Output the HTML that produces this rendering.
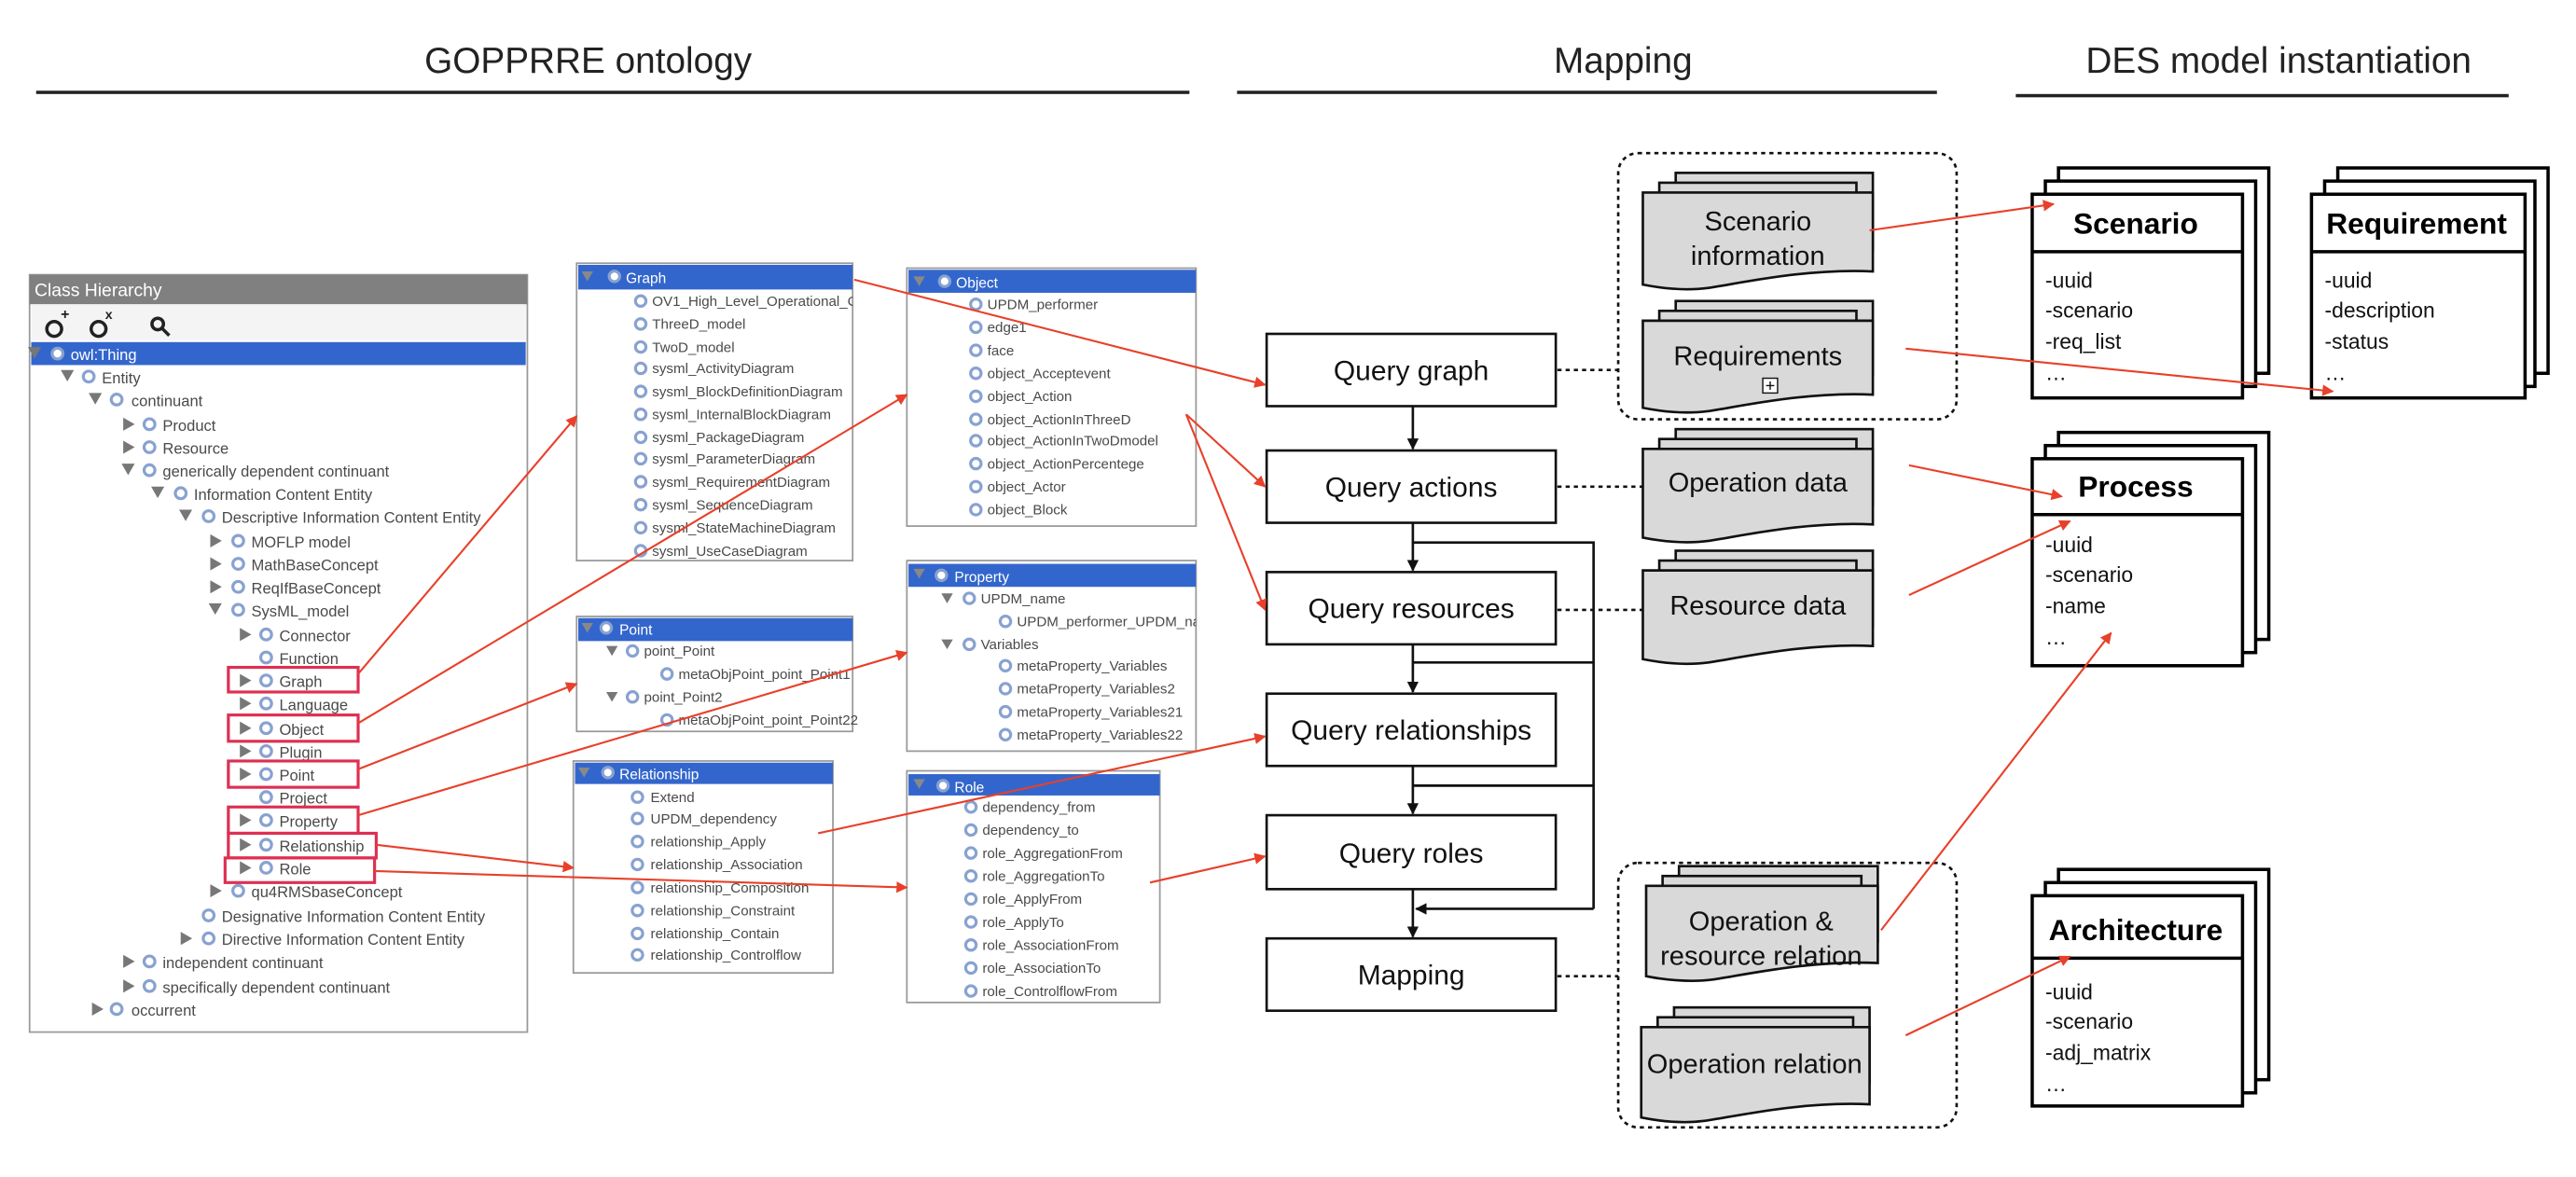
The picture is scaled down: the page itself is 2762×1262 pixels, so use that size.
<!DOCTYPE html>
<html><head><meta charset="utf-8"><style>
html,body{margin:0;padding:0;background:#fff;}
svg{display:block;}
text{font-family:"Liberation Sans",sans-serif;}
.t{font-size:9.4px;fill:#4a4a4a;}
.p{font-size:8.6px;fill:#4a4a4a;}
.h{font-size:8.8px;fill:#fff;}
.m{font-size:17px;fill:#111;}
.d{font-size:16.5px;fill:#111;}
.a{font-size:13px;fill:#111;}
.c{font-size:18px;fill:#000;font-weight:bold;}
.ring{fill:#fff;stroke:#88a2d0;stroke-width:1.8;}
.tri{fill:#777;}
.rb{fill:none;stroke:#de2f52;stroke-width:1.8;}
.ra{stroke:#e8402a;stroke-width:1.2;fill:none;marker-end:url(#ah);}
.box{fill:#fff;stroke:#111;stroke-width:1.5;}
.doc{fill:#d9d9d9;stroke:#111;stroke-width:1.5;}
.card{fill:#fff;stroke:#000;stroke-width:2;}
.dot{stroke:#111;stroke-width:1.5;stroke-dasharray:2.5,2.5;fill:none;}
.pan{fill:#fff;stroke:#999;stroke-width:1;}
</style></head><body>
<svg width="2762" height="1262" viewBox="0 0 1568 716" xmlns="http://www.w3.org/2000/svg">
<defs>
<marker id="ah" viewBox="0 0 10 10" refX="9" refY="5" markerWidth="7" markerHeight="7" orient="auto" markerUnits="userSpaceOnUse"><path d="M0,0 L10,5 L0,10 z" fill="#e8402a"/></marker>
<marker id="bk" viewBox="0 0 10 10" refX="9" refY="5" markerWidth="7" markerHeight="7" orient="auto" markerUnits="userSpaceOnUse"><path d="M0,0 L10,5 L0,10 z" fill="#111"/></marker>
<clipPath id="cg"><rect x="351" y="160" width="168" height="181"/></clipPath>
<clipPath id="co"><rect x="552" y="163" width="176" height="157"/></clipPath>
<clipPath id="cpp"><rect x="552" y="341" width="176" height="116"/></clipPath>
<clipPath id="cr"><rect x="349" y="463" width="158" height="129"/></clipPath>
<clipPath id="cro"><rect x="552" y="469" width="154" height="141"/></clipPath>
</defs>

<!-- Headers -->
<text x="358" y="44" text-anchor="middle" style="font-size:22px;fill:#222">GOPPRRE ontology</text>
<rect x="22" y="55" width="702" height="2" fill="#222"/>
<text x="988" y="44" text-anchor="middle" style="font-size:22px;fill:#222">Mapping</text>
<rect x="753" y="55" width="426" height="2" fill="#222"/>
<text x="1387" y="44" text-anchor="middle" style="font-size:22px;fill:#222">DES model instantiation</text>
<rect x="1227" y="57" width="300" height="2" fill="#222"/>

<!-- Class Hierarchy panel -->
<rect x="18" y="167" width="303" height="461" fill="#fff" stroke="#999" stroke-width="1"/>
<rect x="18" y="167" width="303" height="18" fill="#808080"/>
<text x="21" y="180" style="font-size:11px;fill:#fff">Class Hierarchy</text>
<rect x="19" y="185" width="301" height="22" fill="#f4f4f4"/>
<g fill="none" stroke="#222" stroke-width="2">
<circle cx="33" cy="200" r="4.5"/><circle cx="60" cy="200" r="4.5"/><circle cx="96" cy="197" r="3.5"/>
<line x1="99" y1="200" x2="103" y2="204"/>
</g>
<text x="37" y="194" style="font-size:9px;font-weight:bold;fill:#222">+</text>
<text x="64" y="194" style="font-size:8px;font-weight:bold;fill:#222">x</text>
<rect x="19" y="208" width="301" height="14" fill="#3366cc"/>
<g id="tree">
<!-- rows -->
<path class="tri" d="M17,211 l8,0 l-4,7z" fill="#888"/><circle class="ring" cx="35" cy="215" r="3.3"/><text x="43" y="219" class="t" style="fill:#fff">owl:Thing</text>
<path class="tri" d="M37,225 l8,0 l-4,7z"/><circle class="ring" cx="54" cy="229" r="3.3"/><text x="62" y="233" class="t">Entity</text>
<path class="tri" d="M54,239 l8,0 l-4,7z"/><circle class="ring" cx="71" cy="243" r="3.3"/><text x="80" y="247" class="t">continuant</text>
<path class="tri" d="M75,254 l7,4 l-7,4z"/><circle class="ring" cx="91" cy="258" r="3.3"/><text x="99" y="262" class="t">Product</text>
<path class="tri" d="M75,268 l7,4 l-7,4z"/><circle class="ring" cx="91" cy="272" r="3.3"/><text x="99" y="276" class="t">Resource</text>
<path class="tri" d="M74,282 l8,0 l-4,7z"/><circle class="ring" cx="91" cy="286" r="3.3"/><text x="99" y="290" class="t">generically dependent continuant</text>
<path class="tri" d="M92,296 l8,0 l-4,7z"/><circle class="ring" cx="110" cy="300" r="3.3"/><text x="118" y="304" class="t">Information Content Entity</text>
<path class="tri" d="M109,310 l8,0 l-4,7z"/><circle class="ring" cx="127" cy="314" r="3.3"/><text x="135" y="318" class="t">Descriptive Information Content Entity</text>
<path class="tri" d="M128,325 l7,4 l-7,4z"/><circle class="ring" cx="145" cy="329" r="3.3"/><text x="153" y="333" class="t">MOFLP model</text>
<path class="tri" d="M128,339 l7,4 l-7,4z"/><circle class="ring" cx="145" cy="343" r="3.3"/><text x="153" y="347" class="t">MathBaseConcept</text>
<path class="tri" d="M128,353 l7,4 l-7,4z"/><circle class="ring" cx="145" cy="357" r="3.3"/><text x="153" y="361" class="t">ReqIfBaseConcept</text>
<path class="tri" d="M127,367 l8,0 l-4,7z"/><circle class="ring" cx="145" cy="371" r="3.3"/><text x="153" y="375" class="t">SysML_model</text>
<path class="tri" d="M146,382 l7,4 l-7,4z"/><circle class="ring" cx="162" cy="386" r="3.3"/><text x="170" y="390" class="t">Connector</text>
<circle class="ring" cx="162" cy="400" r="3.3"/><text x="170" y="404" class="t">Function</text>
<path class="tri" d="M146,410 l7,4 l-7,4z"/><circle class="ring" cx="162" cy="414" r="3.3"/><text x="170" y="418" class="t">Graph</text>
<path class="tri" d="M146,424 l7,4 l-7,4z"/><circle class="ring" cx="162" cy="428" r="3.3"/><text x="170" y="432" class="t">Language</text>
<path class="tri" d="M146,439 l7,4 l-7,4z"/><circle class="ring" cx="162" cy="443" r="3.3"/><text x="170" y="447" class="t">Object</text>
<path class="tri" d="M146,453 l7,4 l-7,4z"/><circle class="ring" cx="162" cy="457" r="3.3"/><text x="170" y="461" class="t">Plugin</text>
<path class="tri" d="M146,467 l7,4 l-7,4z"/><circle class="ring" cx="162" cy="471" r="3.3"/><text x="170" y="475" class="t">Point</text>
<circle class="ring" cx="162" cy="485" r="3.3"/><text x="170" y="489" class="t">Project</text>
<path class="tri" d="M146,495 l7,4 l-7,4z"/><circle class="ring" cx="162" cy="499" r="3.3"/><text x="170" y="503" class="t">Property</text>
<path class="tri" d="M146,510 l7,4 l-7,4z"/><circle class="ring" cx="162" cy="514" r="3.3"/><text x="170" y="518" class="t">Relationship</text>
<path class="tri" d="M146,524 l7,4 l-7,4z"/><circle class="ring" cx="162" cy="528" r="3.3"/><text x="170" y="532" class="t">Role</text>
<path class="tri" d="M128,538 l7,4 l-7,4z"/><circle class="ring" cx="145" cy="542" r="3.3"/><text x="153" y="546" class="t">qu4RMSbaseConcept</text>
<circle class="ring" cx="127" cy="557" r="3.3"/><text x="135" y="561" class="t">Designative Information Content Entity</text>
<path class="tri" d="M110,567 l7,4 l-7,4z"/><circle class="ring" cx="127" cy="571" r="3.3"/><text x="135" y="575" class="t">Directive Information Content Entity</text>
<path class="tri" d="M75,581 l7,4 l-7,4z"/><circle class="ring" cx="91" cy="585" r="3.3"/><text x="99" y="589" class="t">independent continuant</text>
<path class="tri" d="M75,596 l7,4 l-7,4z"/><circle class="ring" cx="91" cy="600" r="3.3"/><text x="99" y="604" class="t">specifically dependent continuant</text>
<path class="tri" d="M56,610 l7,4 l-7,4z"/><circle class="ring" cx="71" cy="614" r="3.3"/><text x="80" y="618" class="t">occurrent</text>
</g>
<rect class="rb" x="139" y="406" width="79" height="15"/>
<rect class="rb" x="139" y="435" width="79" height="16"/>
<rect class="rb" x="139" y="463" width="79" height="16"/>
<rect class="rb" x="139" y="491" width="79" height="16"/>
<rect class="rb" x="139" y="507" width="90" height="15"/>
<rect class="rb" x="137" y="522" width="91" height="15"/>

<!-- Graph panel -->
<rect class="pan" x="351" y="160" width="168" height="181"/>
<g clip-path="url(#cg)">
<rect x="352" y="161" width="167" height="15" fill="#3366cc"/>
<path d="M354,165 l7,0 l-3.5,6z" fill="#888"/><circle class="ring" cx="374" cy="168" r="3.2"/><text x="381" y="172" class="h">Graph</text>
<g class="p">
<circle class="ring" cx="390" cy="183" r="3.2"/><text x="397" y="186">OV1_High_Level_Operational_Concept</text>
<circle class="ring" cx="390" cy="197" r="3.2"/><text x="397" y="200">ThreeD_model</text>
<circle class="ring" cx="390" cy="211" r="3.2"/><text x="397" y="214">TwoD_model</text>
<circle class="ring" cx="390" cy="224" r="3.2"/><text x="397" y="227">sysml_ActivityDiagram</text>
<circle class="ring" cx="390" cy="238" r="3.2"/><text x="397" y="241">sysml_BlockDefinitionDiagram</text>
<circle class="ring" cx="390" cy="252" r="3.2"/><text x="397" y="255">sysml_InternalBlockDiagram</text>
<circle class="ring" cx="390" cy="266" r="3.2"/><text x="397" y="269">sysml_PackageDiagram</text>
<circle class="ring" cx="390" cy="279" r="3.2"/><text x="397" y="282">sysml_ParameterDiagram</text>
<circle class="ring" cx="390" cy="293" r="3.2"/><text x="397" y="296">sysml_RequirementDiagram</text>
<circle class="ring" cx="390" cy="307" r="3.2"/><text x="397" y="310">sysml_SequenceDiagram</text>
<circle class="ring" cx="390" cy="321" r="3.2"/><text x="397" y="324">sysml_StateMachineDiagram</text>
<circle class="ring" cx="390" cy="335" r="3.2"/><text x="397" y="338">sysml_UseCaseDiagram</text>
</g></g>

<!-- Object panel -->
<rect class="pan" x="552" y="163" width="176" height="157"/>
<g clip-path="url(#co)">
<rect x="553" y="164" width="175" height="14" fill="#3366cc"/>
<path d="M556,168 l7,0 l-3.5,6z" fill="#888"/><circle class="ring" cx="575" cy="171" r="3.2"/><text x="582" y="175" class="h">Object</text>
<g class="p">
<circle class="ring" cx="594" cy="185" r="3.2"/><text x="601" y="188">UPDM_performer</text>
<circle class="ring" cx="594" cy="199" r="3.2"/><text x="601" y="202">edge1</text>
<circle class="ring" cx="594" cy="213" r="3.2"/><text x="601" y="216">face</text>
<circle class="ring" cx="594" cy="227" r="3.2"/><text x="601" y="230">object_Acceptevent</text>
<circle class="ring" cx="594" cy="241" r="3.2"/><text x="601" y="244">object_Action</text>
<circle class="ring" cx="594" cy="255" r="3.2"/><text x="601" y="258">object_ActionInThreeD</text>
<circle class="ring" cx="594" cy="268" r="3.2"/><text x="601" y="271">object_ActionInTwoDmodel</text>
<circle class="ring" cx="594" cy="282" r="3.2"/><text x="601" y="285">object_ActionPercentege</text>
<circle class="ring" cx="594" cy="296" r="3.2"/><text x="601" y="299">object_Actor</text>
<circle class="ring" cx="594" cy="310" r="3.2"/><text x="601" y="313">object_Block</text>
</g></g>

<!-- Point panel -->
<rect class="pan" x="351" y="375" width="168" height="70"/>
<rect x="352" y="376" width="167" height="14" fill="#3366cc"/>
<path d="M354,379 l7,0 l-3.5,6z" fill="#888"/><circle class="ring" cx="369" cy="382" r="3.2"/><text x="377" y="386" class="h">Point</text>
<g class="p">
<path d="M369,393 l7,0 l-3.5,6z" fill="#777"/><circle class="ring" cx="385" cy="396" r="3.2"/><text x="392" y="399">point_Point</text>
<circle class="ring" cx="406" cy="410" r="3.2"/><text x="413" y="413">metaObjPoint_point_Point1</text>
<path d="M369,421 l7,0 l-3.5,6z" fill="#777"/><circle class="ring" cx="385" cy="424" r="3.2"/><text x="392" y="427">point_Point2</text>
<circle class="ring" cx="406" cy="438" r="3.2"/><text x="413" y="441">metaObjPoint_point_Point22</text>
</g>

<!-- Property panel -->
<rect class="pan" x="552" y="341" width="176" height="116"/>
<g clip-path="url(#cpp)">
<rect x="553" y="343" width="175" height="14" fill="#3366cc"/>
<path d="M556,346 l7,0 l-3.5,6z" fill="#888"/><circle class="ring" cx="573" cy="350" r="3.2"/><text x="581" y="354" class="h">Property</text>
<g class="p">
<path d="M573,361 l7,0 l-3.5,6z" fill="#777"/><circle class="ring" cx="590" cy="364" r="3.2"/><text x="597" y="367">UPDM_name</text>
<circle class="ring" cx="612" cy="378" r="3.2"/><text x="619" y="381">UPDM_performer_UPDM_name</text>
<path d="M573,389 l7,0 l-3.5,6z" fill="#777"/><circle class="ring" cx="590" cy="392" r="3.2"/><text x="597" y="395">Variables</text>
<circle class="ring" cx="612" cy="405" r="3.2"/><text x="619" y="408">metaProperty_Variables</text>
<circle class="ring" cx="612" cy="419" r="3.2"/><text x="619" y="422">metaProperty_Variables2</text>
<circle class="ring" cx="612" cy="433" r="3.2"/><text x="619" y="436">metaProperty_Variables21</text>
<circle class="ring" cx="612" cy="447" r="3.2"/><text x="619" y="450">metaProperty_Variables22</text>
</g></g>

<!-- Relationship panel -->
<rect class="pan" x="349" y="463" width="158" height="129"/>
<g clip-path="url(#cr)">
<rect x="350" y="464" width="157" height="13" fill="#3366cc"/>
<path d="M352,467 l7,0 l-3.5,6z" fill="#888"/><circle class="ring" cx="370" cy="470" r="3.2"/><text x="377" y="474" class="h">Relationship</text>
<g class="p">
<circle class="ring" cx="388" cy="485" r="3.2"/><text x="396" y="488">Extend</text>
<circle class="ring" cx="388" cy="498" r="3.2"/><text x="396" y="501">UPDM_dependency</text>
<circle class="ring" cx="388" cy="512" r="3.2"/><text x="396" y="515">relationship_Apply</text>
<circle class="ring" cx="388" cy="526" r="3.2"/><text x="396" y="529">relationship_Association</text>
<circle class="ring" cx="388" cy="540" r="3.2"/><text x="396" y="543">relationship_Composition</text>
<circle class="ring" cx="388" cy="554" r="3.2"/><text x="396" y="557">relationship_Constraint</text>
<circle class="ring" cx="388" cy="568" r="3.2"/><text x="396" y="571">relationship_Contain</text>
<circle class="ring" cx="388" cy="581" r="3.2"/><text x="396" y="584">relationship_Controlflow</text>
</g></g>

<!-- Role panel -->
<rect class="pan" x="552" y="469" width="154" height="141"/>
<g clip-path="url(#cro)">
<rect x="553" y="471" width="153" height="13" fill="#3366cc"/>
<path d="M556,474 l7,0 l-3.5,6z" fill="#888"/><circle class="ring" cx="574" cy="478" r="3.2"/><text x="581" y="482" class="h">Role</text>
<g class="p">
<circle class="ring" cx="591" cy="491" r="3.2"/><text x="598" y="494">dependency_from</text>
<circle class="ring" cx="591" cy="505" r="3.2"/><text x="598" y="508">dependency_to</text>
<circle class="ring" cx="591" cy="519" r="3.2"/><text x="598" y="522">role_AggregationFrom</text>
<circle class="ring" cx="591" cy="533" r="3.2"/><text x="598" y="536">role_AggregationTo</text>
<circle class="ring" cx="591" cy="547" r="3.2"/><text x="598" y="550">role_ApplyFrom</text>
<circle class="ring" cx="591" cy="561" r="3.2"/><text x="598" y="564">role_ApplyTo</text>
<circle class="ring" cx="591" cy="575" r="3.2"/><text x="598" y="578">role_AssociationFrom</text>
<circle class="ring" cx="591" cy="589" r="3.2"/><text x="598" y="592">role_AssociationTo</text>
<circle class="ring" cx="591" cy="603" r="3.2"/><text x="598" y="606">role_ControlflowFrom</text>
</g></g>

<!-- Mapping boxes -->
<rect class="box" x="771" y="203" width="176" height="44"/><text x="859" y="231" class="m" text-anchor="middle">Query graph</text>
<rect class="box" x="771" y="274" width="176" height="44"/><text x="859" y="302" class="m" text-anchor="middle">Query actions</text>
<rect class="box" x="771" y="348" width="176" height="44"/><text x="859" y="376" class="m" text-anchor="middle">Query resources</text>
<rect class="box" x="771" y="422" width="176" height="44"/><text x="859" y="450" class="m" text-anchor="middle">Query relationships</text>
<rect class="box" x="771" y="496" width="176" height="45"/><text x="859" y="525" class="m" text-anchor="middle">Query roles</text>
<rect class="box" x="771" y="571" width="176" height="44"/><text x="859" y="599" class="m" text-anchor="middle">Mapping</text>
<g stroke="#111" stroke-width="1.5" fill="none">
<line x1="860" y1="247" x2="860" y2="273" marker-end="url(#bk)"/>
<line x1="860" y1="318" x2="860" y2="347" marker-end="url(#bk)"/>
<line x1="860" y1="392" x2="860" y2="421" marker-end="url(#bk)"/>
<line x1="860" y1="466" x2="860" y2="495" marker-end="url(#bk)"/>
<line x1="860" y1="541" x2="860" y2="570" marker-end="url(#bk)"/>
<polyline points="860,330 970,330 970,553"/>
<line x1="860" y1="403" x2="970" y2="403"/>
<line x1="860" y1="478" x2="970" y2="478"/>
<line x1="970" y1="553" x2="862" y2="553" marker-end="url(#bk)"/>
</g>
<line class="dot" x1="948" y1="225" x2="985" y2="225"/>
<line class="dot" x1="948" y1="296" x2="1000" y2="296"/>
<line class="dot" x1="948" y1="371" x2="1000" y2="371"/>
<line class="dot" x1="948" y1="594" x2="985" y2="594"/>
<rect class="dot" x="985" y="93" width="206" height="162" rx="12"/>
<rect class="dot" x="985" y="525" width="206" height="161" rx="12"/>

<!-- Document stacks -->
<g id="docs">
<!-- Scenario information -->
<rect class="doc" x="1020" y="105" width="120" height="47"/>
<rect class="doc" x="1010" y="111" width="120" height="48"/>
<path class="doc" d="M1000,117 H1140 V165 C1100,163 1060,172 1040,175 C1025,177 1010,175 1000,173 Z"/>
<text x="1070" y="140" class="d" text-anchor="middle">Scenario</text>
<text x="1070" y="161" class="d" text-anchor="middle">information</text>
<!-- Requirements -->
<rect class="doc" x="1020" y="183" width="120" height="45"/>
<rect class="doc" x="1010" y="189" width="120" height="46"/>
<path class="doc" d="M1000,195 H1140 V240 C1100,238 1060,247 1040,250 C1025,252 1010,250 1000,248 Z"/>
<text x="1070" y="222" class="d" text-anchor="middle">Requirements</text>
<rect x="1073" y="230" width="9" height="9" fill="#fff" stroke="#111" stroke-width="0.8"/>
<path d="M1077.5,232 v5 M1075,234.5 h5" stroke="#111" stroke-width="0.8"/>
<!-- Operation data -->
<rect class="doc" x="1020" y="261" width="120" height="46"/>
<rect class="doc" x="1010" y="267" width="120" height="47"/>
<path class="doc" d="M1000,273 H1140 V319 C1100,317 1060,326 1040,329 C1025,331 1010,329 1000,327 Z"/>
<text x="1070" y="299" class="d" text-anchor="middle">Operation data</text>
<!-- Resource data -->
<rect class="doc" x="1020" y="335" width="120" height="46"/>
<rect class="doc" x="1010" y="341" width="120" height="47"/>
<path class="doc" d="M1000,347 H1140 V393 C1100,391 1060,400 1040,403 C1025,405 1010,403 1000,401 Z"/>
<text x="1070" y="374" class="d" text-anchor="middle">Resource data</text>
<!-- Operation & resource relation -->
<rect class="doc" x="1022" y="527" width="121" height="46"/>
<rect class="doc" x="1012" y="533" width="121" height="47"/>
<path class="doc" d="M1002,539 H1143 V586 C1103,584 1063,593 1043,596 C1028,598 1012,596 1002,594 Z"/>
<text x="1072" y="566" class="d" text-anchor="middle">Operation &amp;</text>
<text x="1072" y="587" class="d" text-anchor="middle">resource relation</text>
<!-- Operation relation -->
<rect class="doc" x="1019" y="613" width="119" height="46"/>
<rect class="doc" x="1009" y="619" width="119" height="47"/>
<path class="doc" d="M999,625 H1138 V672 C1098,670 1058,679 1038,682 C1023,684 1009,682 999,680 Z"/>
<text x="1068" y="653" class="d" text-anchor="middle">Operation relation</text>
</g>

<!-- Class cards -->
<g>
<rect class="card" x="1253" y="102" width="128" height="125"/>
<rect class="card" x="1245" y="110" width="128" height="125"/>
<rect class="card" x="1237" y="118" width="128" height="124"/>
<line x1="1237" y1="153" x2="1365" y2="153" stroke="#000" stroke-width="2"/>
<text x="1300" y="142" class="c" text-anchor="middle">Scenario</text>
<text x="1245" y="175" class="a">-uuid</text><text x="1245" y="193" class="a">-scenario</text><text x="1245" y="212" class="a">-req_list</text><text x="1245" y="231" class="a">…</text>

<rect class="card" x="1423" y="102" width="128" height="125"/>
<rect class="card" x="1415" y="110" width="128" height="125"/>
<rect class="card" x="1407" y="118" width="130" height="124"/>
<line x1="1407" y1="153" x2="1537" y2="153" stroke="#000" stroke-width="2"/>
<text x="1471" y="142" class="c" text-anchor="middle">Requirement</text>
<text x="1415" y="175" class="a">-uuid</text><text x="1415" y="193" class="a">-description</text><text x="1415" y="212" class="a">-status</text><text x="1415" y="231" class="a">…</text>

<rect class="card" x="1253" y="263" width="128" height="126"/>
<rect class="card" x="1245" y="271" width="128" height="126"/>
<rect class="card" x="1237" y="279" width="128" height="126"/>
<line x1="1237" y1="313" x2="1365" y2="313" stroke="#000" stroke-width="2"/>
<text x="1300" y="302" class="c" text-anchor="middle">Process</text>
<text x="1245" y="336" class="a">-uuid</text><text x="1245" y="354" class="a">-scenario</text><text x="1245" y="373" class="a">-name</text><text x="1245" y="392" class="a">…</text>

<rect class="card" x="1253" y="529" width="128" height="128"/>
<rect class="card" x="1245" y="537" width="128" height="128"/>
<rect class="card" x="1237" y="545" width="128" height="128"/>
<line x1="1237" y1="583" x2="1365" y2="583" stroke="#000" stroke-width="2"/>
<text x="1300" y="572" class="c" text-anchor="middle">Architecture</text>
<text x="1245" y="608" class="a">-uuid</text><text x="1245" y="626" class="a">-scenario</text><text x="1245" y="645" class="a">-adj_matrix</text><text x="1245" y="664" class="a">…</text>
</g>

<!-- Red arrows -->
<line class="ra" x1="218" y1="410" x2="351" y2="253"/>
<line class="ra" x1="218" y1="440" x2="552" y2="240"/>
<line class="ra" x1="218" y1="468" x2="351" y2="416"/>
<line class="ra" x1="218" y1="496" x2="552" y2="397"/>
<line class="ra" x1="229" y1="514" x2="349" y2="528"/>
<line class="ra" x1="228" y1="530" x2="552" y2="540"/>
<line class="ra" x1="520" y1="170" x2="770" y2="234"/>
<line class="ra" x1="722" y1="252" x2="770" y2="296"/>
<line class="ra" x1="722" y1="252" x2="770" y2="371"/>
<line class="ra" x1="498" y1="507" x2="770" y2="448"/>
<line class="ra" x1="700" y1="537" x2="770" y2="521"/>
<line class="ra" x1="1138" y1="140" x2="1250" y2="124"/>
<line class="ra" x1="1160" y1="212" x2="1420" y2="238"/>
<line class="ra" x1="1162" y1="283" x2="1255" y2="302"/>
<line class="ra" x1="1162" y1="362" x2="1260" y2="317"/>
<line class="ra" x1="1145" y1="566" x2="1285" y2="385"/>
<line class="ra" x1="1160" y1="630" x2="1260" y2="582"/>
</svg>
</body></html>
